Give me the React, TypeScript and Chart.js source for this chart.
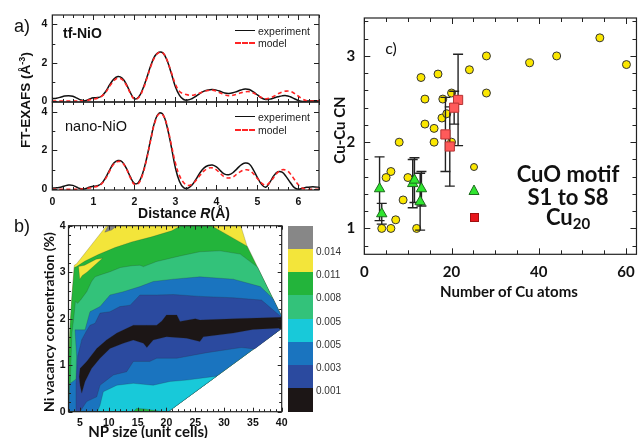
import React, { useEffect, useRef } from 'react';
import { Chart, registerables } from 'chart.js';
Chart.register(...registerables);

const W = 644;
const H = 438;

// ---------- panel a data ----------
const distR = [0,0.1,0.2,0.3,0.4,0.5,0.6,0.7,0.8,0.9,1,1.1,1.2,1.3,1.4,1.5,1.6,1.7,1.8,1.9,2,2.1,2.2,2.3,2.4,2.5,2.6,2.7,2.8,2.9,3,3.1,3.2,3.3,3.4,3.5,3.6,3.7,3.8,3.9,4,4.1,4.2,4.3,4.4,4.5,4.6,4.7,4.8,4.9,5,5.1,5.2,5.3,5.4,5.5,5.6,5.7,5.8,5.9,6,6.1,6.2,6.3,6.4,6.5];
const tfExp = [0.12,0.15,0.2,0.26,0.28,0.25,0.15,0.05,0.02,0.1,0.17,0.18,0.25,0.5,0.85,1.15,1.28,1.2,0.9,0.45,0.12,0.2,0.6,1.2,1.85,2.35,2.55,2.5,2.1,1.45,0.75,0.3,0.08,0.05,0.12,0.25,0.4,0.52,0.58,0.6,0.57,0.5,0.42,0.4,0.43,0.5,0.58,0.63,0.6,0.48,0.32,0.16,0.08,0.1,0.16,0.22,0.27,0.28,0.22,0.12,0.03,-0.02,0,0.02,0.02,0.02];
const tfModel = [0,0,0,0,0,0,0,0.01,0.02,0.06,0.1,0.15,0.25,0.45,0.78,1.06,1.2,1.13,0.85,0.42,0.1,0.17,0.55,1.15,1.8,2.3,2.53,2.5,2.12,1.5,0.88,0.5,0.38,0.32,0.3,0.35,0.42,0.5,0.55,0.57,0.52,0.42,0.33,0.28,0.3,0.36,0.43,0.48,0.49,0.42,0.3,0.18,0.12,0.15,0.25,0.38,0.47,0.52,0.5,0.4,0.25,0.1,0.02,0,0,0];
const nanoExp = [0.05,0.07,0.1,0.17,0.22,0.2,0.1,0.02,0.02,0.1,0.15,0.18,0.3,0.6,1,1.35,1.48,1.42,1.1,0.65,0.3,0.35,0.8,1.6,2.6,3.5,3.92,3.85,3.2,2.2,1.1,0.4,0.08,0.05,0.2,0.5,0.85,1.1,1.22,1.25,1.15,0.95,0.78,0.75,0.85,1.05,1.25,1.35,1.3,1,0.6,0.25,0.1,0.35,0.7,0.9,0.88,0.65,0.35,0.08,0,0.05,0.1,0.12,0.12,0.1];
const nanoModel = [0,0,0,0,0,0,0,0.01,0.03,0.06,0.1,0.15,0.28,0.55,0.95,1.3,1.43,1.38,1.08,0.6,0.25,0.3,0.75,1.55,2.55,3.45,3.88,3.82,3.25,2.3,1.35,0.7,0.35,0.2,0.25,0.45,0.72,0.95,1.08,1.1,1,0.8,0.63,0.58,0.63,0.78,0.93,1,0.98,0.8,0.55,0.32,0.2,0.35,0.62,0.88,1,0.98,0.8,0.5,0.22,0.05,0,0,0,0];
const aXTicks = [0, 1, 2, 3, 4, 5, 6];
const aYTicks = [0, 2, 4];

// ---------- panel b data (contour regions, [NP size, vacancy %]) ----------
const hullRegion = [[3,0],[20.3,0],[40,1.79],[40,2.05],[34.0,3.56],[32.9,4],[9.6,4],[4.4,3.18],[4.0,3.15],[3.6,2.5],[3.25,1.8],[3.0,1.0]];
const greySpot = [[9.3,3.86],[9.9,4.0],[11.4,4.0],[10.5,3.91]];
const greenRegion = [[4.4,3.12],[5.87,3.24],[8.18,3.38],[11.07,3.53],[13.96,3.65],[17.43,3.76],[20.9,3.89],[22.5,4.0],[27.8,4.0],[34.0,3.56],[40,2.05],[40,1.79],[20.3,0],[3,0],[3,1.0],[3.25,1.8],[3.6,2.5],[4.0,3.1]];
const yellowIsland = [[4.75,3.12],[4.95,2.85],[5.4,2.93],[6.2,3.0],[8.9,3.3],[7.8,3.28],[5.8,3.15]];
const medGreenRegion = [[4.2,2.37],[4.6,2.33],[5.2,2.42],[6.16,2.58],[7.0,2.8],[7.6,2.9],[8.47,2.94],[10.2,3.01],[12.0,3.1],[13.97,3.14],[15.4,3.15],[16.0,3.12],[18.3,3.23],[22.35,3.35],[25.8,3.44],[29.3,3.46],[32.8,3.39],[35.8,3.11],[40,2.05],[40,1.79],[20.3,0],[3.1,0],[3.3,0.6],[3.6,1.7],[3.9,2.0]];
const blueRegion = [[4.13,1.76],[5.87,1.76],[6.73,2.15],[8.47,2.26],[10.2,2.51],[12.5,2.58],[15.4,2.69],[17.7,2.8],[21.2,2.85],[25.8,2.9],[31.6,2.85],[36.3,2.69],[38.5,2.43],[40,2.05],[40,1.79],[20.3,0],[3.05,0],[3.2,0.6],[4.3,0.7],[4.4,1.2]];
const cyanRegion = [[8.0,0],[8.47,0.14],[9.04,0.43],[11.4,0.57],[14.25,0.61],[17.7,0.57],[20.6,0.65],[23.5,0.68],[28.7,0.765],[20.3,0]];
const greenBottomSpot = [[14.2,0],[14.8,0.07],[16.2,0.06],[19.5,0]];
const darkBlueRegion = [[6.04,1.72],[6.73,1.86],[7.6,1.9],[8.47,2.12],[10.2,2.15],[11.9,2.26],[13.7,2.29],[15.4,2.51],[18.3,2.51],[21.2,2.52],[25.8,2.48],[31.6,2.45],[36.5,2.4],[40,2.03],[40,1.79],[35.3,1.35],[33,1.38],[27,1.27],[21.8,1.15],[18.3,1.15],[17.1,1.08],[14.25,1.08],[13.1,0.86],[10.8,0.79],[8.47,0.57],[7.9,0.32],[6.16,0.22],[5.0,0],[4.2,0],[4.3,0.6],[4.6,1.2],[5.3,1.55]];
const blackRegion = [[5.0,0.93],[6.16,1.08],[7.9,1.36],[9.6,1.54],[11.4,1.69],[14.25,1.86],[16.6,1.86],[18.3,1.86],[19.2,1.95],[20.0,2.08],[21.8,2.08],[22.35,1.94],[25.0,2.0],[25.8,1.97],[31.6,2.0],[40,2.03],[40,1.8],[35,1.77],[31.6,1.69],[26.4,1.61],[25.8,1.51],[23.5,1.58],[20.0,1.61],[17.7,1.54],[16.6,1.38],[16.0,1.47],[14.25,1.54],[12.5,1.47],[10.2,1.36],[8.47,1.15],[7.0,0.93],[5.87,0.65],[5.3,0.4],[5.0,0.57],[4.85,0.75]];
const bXTicks = [5, 10, 15, 20, 25, 30, 35, 40];
const bYTicks = [0, 1, 2, 3, 4];
const levelLabels = ['0.014', '0.011', '0.008', '0.005', '0.005', '0.003', '0.001'];

// ---------- panel c data ----------
const cuCircX = [13.0,16.9,24.1,28.0,28.0,37.9,44.1,54.0,60.1,13.9,18.0,20.0,13.9,16.0,17.8,18.9,16.0,20.0,8.0,6.1,5.0,10.0,8.9,7.2,4.0,6.1,12.0];
const cuCircY = [2.75,2.79,2.84,3.00,2.57,2.92,3.00,3.21,2.90,2.50,2.50,2.57,2.21,2.16,2.28,2.33,2.00,2.00,2.00,1.66,1.59,1.59,1.33,1.10,1.00,1.00,1.00];
const triX = [3.5, 4.0, 11.1, 11.5, 13.1, 12.8];
const triY = [1.46, 1.17, 1.52, 1.56, 1.46, 1.31];
const triErr = [0.37, 0.12, 0.28, 0.26, 0.2, 0.33];
const sqX = [21.5, 20.6, 18.6, 19.6];
const sqY = [2.49, 2.4, 2.09, 1.95];
const sqErr = [0.53, 0.19, 0.43, 0.46];
const cXTicks = [0, 20, 40, 60];
const cYTicks = [1, 2, 3];

// ---------- styles ----------
const BAND = {
  grey: '#878787', yellow: '#f3e53a', green: '#23b43b', medGreen: '#33c27a',
  cyan: '#18c9d9', blue: '#1a74bf', darkBlue: '#2b4a9f', black: '#1c1616',
};
const barColors = [BAND.grey, BAND.yellow, BAND.green, BAND.medGreen, BAND.cyan, BAND.blue, BAND.darkBlue, BAND.black];
const ARIAL = '"Liberation Sans", Arial, sans-serif';
const LATO = 'Lato, "Open Sans", sans-serif';

type Area = { l: number; r: number; t: number; b: number };

const framePlugin = {
  id: 'frame',
  afterDatasetsDraw(chart: any, _a: any, opts: any) {
    const { ctx, chartArea: a, scales } = chart;
    ctx.save();
    ctx.strokeStyle = '#222';
    ctx.lineWidth = 1;
    ctx.beginPath();
    const drawAxis = (scale: any, cfg: any, horizontal: boolean) => {
      const n = Math.round((cfg.max - cfg.min) / cfg.step);
      for (let i = 0; i <= n; i++) {
        const v = cfg.min + i * cfg.step;
        const p = Math.round(scale.getPixelForValue(v)) + 0.5;
        const r = v / cfg.major;
        const len = Math.abs(r - Math.round(r)) < 1e-6 ? cfg.majorLen : cfg.minorLen;
        if (horizontal) {
          ctx.moveTo(p, a.bottom); ctx.lineTo(p, a.bottom - len);
          ctx.moveTo(p, a.top); ctx.lineTo(p, a.top + len);
        } else {
          ctx.moveTo(a.left, p); ctx.lineTo(a.left + len, p);
          ctx.moveTo(a.right, p); ctx.lineTo(a.right - len, p);
        }
      }
    };
    drawAxis(scales.x, opts.x, true);
    drawAxis(scales.y, opts.y, false);
    ctx.stroke();
    ctx.lineWidth = 1.2;
    ctx.strokeRect(a.left, a.top, a.right - a.left, a.bottom - a.top);
    ctx.restore();
  },
};

function axis(min: number, max: number, ticks: number[], font: any, pad: number, show: boolean) {
  return {
    type: 'linear',
    min, max,
    grid: { display: false, drawTicks: false },
    border: { display: false },
    afterBuildTicks: (s: any) => { s.ticks = ticks.map((v) => ({ value: v })); },
    ticks: { display: show, font, color: '#111', padding: pad, maxRotation: 0, autoSkip: false, callback: (v: any) => String(v) },
  };
}

function baseOptions(area: Area, xs: any, ys: any, frame: any) {
  const yW = 40, xH = 30;
  return {
    responsive: false,
    animation: false,
    devicePixelRatio: 1,
    events: [],
    layout: { padding: { left: area.l - yW, top: area.t, right: W - area.r, bottom: H - area.b - xH } },
    scales: { x: { ...xs, afterFit: (s: any) => { s.height = xH; } }, y: { ...ys, afterFit: (s: any) => { s.width = yW; } } },
    plugins: { legend: { display: false }, tooltip: { enabled: false }, frame },
  };
}

const pts = (xs: number[], ys: number[]) => xs.map((x, i) => ({ x, y: ys[i] }));

function exafsConfig(area: Area, exp: number[], model: number[], yMin: number, yMax: number, showX: boolean) {
  const tickFont = { family: ARIAL, size: 10.5, weight: 'bold' };
  return {
    type: 'scatter',
    data: {
      datasets: [
        { data: pts(distR, model), showLine: true, borderColor: '#ff2424', borderDash: [4, 3], borderWidth: 1.6, pointRadius: 0, tension: 0.4, order: 0 },
        { data: pts(distR, exp), showLine: true, borderColor: '#111', borderWidth: 1.5, pointRadius: 0, tension: 0.4, order: 1 },
      ],
    },
    options: baseOptions(
      area,
      axis(0, 6.5, aXTicks, tickFont, 6, showX),
      axis(yMin, yMax, aYTicks, tickFont, 5, true),
      { x: { min: 0, max: 6.5, step: 0.25, major: 1, minorLen: 3, majorLen: 5 }, y: { min: 0, max: 4, step: 1, major: 2, minorLen: 3, majorLen: 5 } },
    ),
    plugins: [framePlugin],
  };
}

function contourConfig(area: Area) {
  const tickFont = { family: ARIAL, size: 10.5, weight: 'bold' };
  const layers: [number[][], string][] = [
    [hullRegion, BAND.yellow],
    [greySpot, BAND.grey],
    [greenRegion, BAND.green],
    [yellowIsland, BAND.yellow],
    [medGreenRegion, BAND.medGreen],
    [blueRegion, BAND.blue],
    [cyanRegion, BAND.cyan],
    [greenBottomSpot, BAND.green],
    [darkBlueRegion, BAND.darkBlue],
    [blackRegion, BAND.black],
  ];
  const datasets = layers.map(([poly, color], i) => ({
    data: [...poly, poly[0]].map(([x, y]) => ({ x, y })),
    showLine: true,
    fill: 'shape',
    backgroundColor: color,
    borderColor: 'rgba(45,45,45,0.35)',
    borderWidth: 0.6,
    pointRadius: 0,
    tension: 0,
    order: layers.length - i,
  }));
  return {
    type: 'scatter',
    data: { datasets },
    options: baseOptions(
      area,
      axis(3, 40, bXTicks, tickFont, 5, true),
      axis(0, 4, bYTicks, tickFont, 3, true),
      { x: { min: 3, max: 40, step: 1, major: 5, minorLen: 2.5, majorLen: 4 }, y: { min: 0, max: 4, step: 0.2, major: 1, minorLen: 2.5, majorLen: 4 } },
    ),
    plugins: [framePlugin],
  };
}

function errorData(xs: number[], ys: number[], es: number[]) {
  const out: any[] = [];
  xs.forEach((x, i) => {
    out.push({ x, y: ys[i] - es[i] }, { x, y: ys[i] + es[i] }, { x, y: null });
  });
  return out;
}

function scatterConfig(area: Area) {
  const tickFont = { family: LATO, size: 15, weight: 'bold' };
  const errStyle = { showLine: true, borderColor: '#222', borderWidth: 1.4, pointStyle: 'line', pointRadius: 5, pointBorderColor: '#222', pointBorderWidth: 1.4, spanGaps: false };
  return {
    type: 'scatter',
    data: {
      datasets: [
        { data: pts(sqX, sqY), pointStyle: 'rect', pointRadius: 6.5, backgroundColor: '#ff5a5a', borderColor: '#b63333', borderWidth: 1, order: 0 },
        { data: pts(triX, triY), pointStyle: 'triangle', pointRadius: 6, backgroundColor: '#2fe52f', borderColor: '#1d6b1d', borderWidth: 1, order: 1 },
        { data: errorData(sqX, sqY, sqErr), ...errStyle, order: 2 },
        { data: errorData(triX, triY, triErr), ...errStyle, order: 3 },
        { data: pts(cuCircX, cuCircY), pointStyle: 'circle', pointRadius: 4, backgroundColor: '#fbe700', borderColor: '#333', borderWidth: 1, order: 4 },
      ],
    },
    options: baseOptions(
      area,
      axis(0, 62.4, cXTicks, tickFont, 9, true),
      axis(0.7, 3.44, cYTicks, tickFont, 9, true),
      { x: { min: 0, max: 60, step: 5, major: 20, minorLen: 4, majorLen: 6 }, y: { min: 0.8, max: 3.4, step: 0.2, major: 1, minorLen: 4, majorLen: 6 } },
    ),
    plugins: [framePlugin],
  };
}

const AREA_A1: Area = { l: 52.3, r: 319, t: 15, b: 102 };
const AREA_A2: Area = { l: 52.3, r: 319, t: 102, b: 190 };
const AREA_B: Area = { l: 68.5, r: 281.7, t: 225.7, b: 411.7 };
const AREA_C: Area = { l: 364.3, r: 644.5, t: 15.7, b: 254.3 };

function Txt(props: { x: number; y: number; children: any; style?: any; anchor?: 'left' | 'center'; rot?: boolean }) {
  const { x, y, children, style, anchor = 'center', rot } = props;
  const tx = anchor === 'center' ? '-50%' : '0';
  return (
    <div style={{ position: 'absolute', left: x, top: y, whiteSpace: 'nowrap', lineHeight: 1, color: '#111',
      transform: `translate(${tx}, -50%)${rot ? ' rotate(-90deg)' : ''}`, transformOrigin: anchor === 'center' ? '50% 50%' : '0 50%', ...style }}>
      {children}
    </div>
  );
}

function LegendLine(props: { x: number; y: number; dashed?: boolean; label: string }) {
  const { x, y, dashed, label } = props;
  return (
    <>
      <div style={{ position: 'absolute', left: x, top: y - 1, width: 20, height: 0, borderTop: dashed ? '2px dashed #ff2424' : '1.6px solid #111' }} />
      <Txt x={x + 23} y={y} anchor="left" style={{ font: `10.5px ${ARIAL}`, color: '#222' }}>{label}</Txt>
    </>
  );
}

export default function App() {
  const c1 = useRef<HTMLCanvasElement>(null);
  const c2 = useRef<HTMLCanvasElement>(null);
  const c3 = useRef<HTMLCanvasElement>(null);
  const c4 = useRef<HTMLCanvasElement>(null);

  useEffect(() => {
    const charts = [
      new Chart(c1.current as any, exafsConfig(AREA_A1, tfExp, tfModel, -0.05, 4.49, false) as any),
      new Chart(c2.current as any, exafsConfig(AREA_A2, nanoExp, nanoModel, -0.04, 4.5, true) as any),
      new Chart(c3.current as any, contourConfig(AREA_B) as any),
      new Chart(c4.current as any, scatterConfig(AREA_C) as any),
    ];
    return () => charts.forEach((c) => c.destroy());
  }, []);

  const cv = { position: 'absolute' as const, left: 0, top: 0 };
  const boxH = (AREA_B.b - AREA_B.t) / 8;

  return (
    <div style={{ position: 'fixed', left: 0, top: 0, width: W, height: H, background: '#fff', overflow: 'hidden' }}>
      <canvas ref={c1} width={W} height={H} style={cv} />
      <canvas ref={c2} width={W} height={H} style={cv} />
      <canvas ref={c3} width={W} height={H} style={cv} />
      <canvas ref={c4} width={W} height={H} style={cv} />

      {/* panel labels */}
      <Txt x={22} y={26} style={{ font: `18px ${ARIAL}` }}>a)</Txt>
      <Txt x={22} y={226} style={{ font: `18px ${ARIAL}` }}>b)</Txt>
      <Txt x={391} y={47} style={{ font: `16px ${LATO}` }}>c)</Txt>

      {/* panel a */}
      <Txt x={63} y={33} anchor="left" style={{ font: `bold 14px ${ARIAL}` }}>tf-NiO</Txt>
      <Txt x={65} y={126} anchor="left" style={{ font: `14.5px ${ARIAL}` }}>nano-NiO</Txt>
      <LegendLine x={235} y={31} label="experiment" />
      <LegendLine x={235} y={43} dashed label="model" />
      <LegendLine x={235} y={117} label="experiment" />
      <LegendLine x={235} y={130} dashed label="model" />
      <Txt x={25} y={100} rot style={{ font: `bold 13.5px ${ARIAL}` }}>FT-EXAFS (Å<sup style={{ fontSize: '9px' }}>-3</sup>)</Txt>
      <Txt x={184} y={213} style={{ font: `bold 14px ${ARIAL}` }}>Distance <i>R</i>(Å)</Txt>

      {/* panel b */}
      <Txt x={48} y={322} rot style={{ font: `bold 14px ${LATO}` }}>Ni vacancy concentration (%)</Txt>
      <Txt x={148} y={431} style={{ font: `bold 15px ${LATO}` }}>NP size (unit cells)</Txt>
      {barColors.map((c, i) => (
        <div key={i} style={{ position: 'absolute', left: 288, top: AREA_B.t + i * boxH, width: 25, height: boxH + 0.5, background: c }} />
      ))}
      {levelLabels.map((t, i) => (
        <Txt key={t + i} x={316} y={AREA_B.t + (i + 1) * boxH + 2} anchor="left" style={{ font: `10px ${ARIAL}`, color: '#333' }}>{t}</Txt>
      ))}

      {/* panel c */}
      <Txt x={339} y={130} rot style={{ font: `bold 15px ${LATO}` }}>Cu-Cu CN</Txt>
      <Txt x={509} y={291} style={{ font: `bold 15px ${LATO}` }}>Number of Cu atoms</Txt>
      <div style={{ position: 'absolute', left: 470, top: 163, width: 8, height: 8, borderRadius: '50%', background: '#fbe700', border: '1px solid #333', boxSizing: 'border-box' }} />
      <svg style={{ position: 'absolute', left: 468, top: 184 }} width={12} height={12}>
        <polygon points="6,1 11,10.5 1,10.5" fill="#2fe52f" stroke="#1d6b1d" strokeWidth={1} />
      </svg>
      <div style={{ position: 'absolute', left: 470, top: 212.5, width: 9, height: 9, background: '#e8161c', border: '1px solid #a01010', boxSizing: 'border-box' }} />
      <Txt x={568} y={173} style={{ font: `bold 22px ${LATO}` }}>CuO motif</Txt>
      <Txt x={568} y={196} style={{ font: `bold 22px ${LATO}` }}>S1 to S8</Txt>
      <Txt x={568} y={217} style={{ font: `bold 22px ${LATO}` }}>Cu<sub style={{ fontSize: '15px', verticalAlign: '-4px' }}>20</sub></Txt>
    </div>
  );
}
